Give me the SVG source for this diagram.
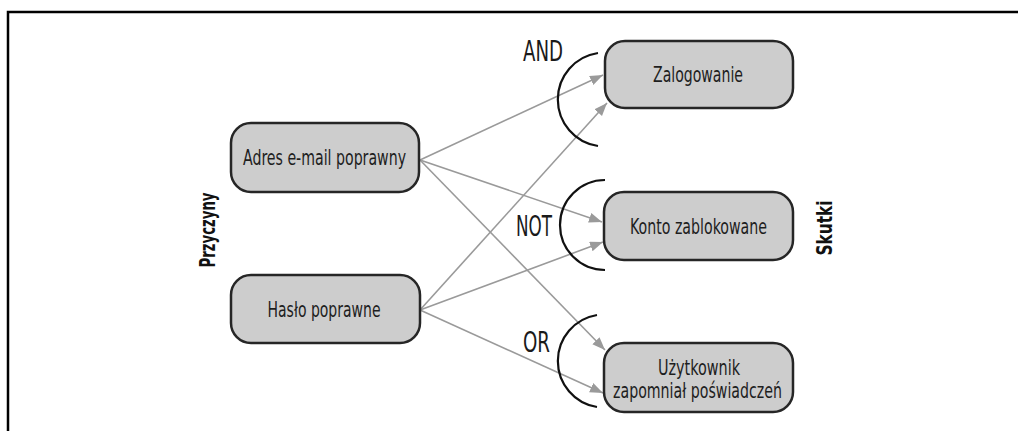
<svg xmlns="http://www.w3.org/2000/svg" width="1018" height="431" viewBox="0 0 1018 431">
<style>
.node{fill:#cdcdcd;stroke:#262626;stroke-width:2.5}
.t{font-family:"DejaVu Sans Condensed","DejaVu Sans",sans-serif;font-stretch:condensed;font-size:21px;fill:#1e1e1e;text-anchor:middle}
.lbl{font-family:"DejaVu Sans Condensed","DejaVu Sans",sans-serif;font-stretch:condensed;font-size:29px;fill:#1a1a1a;text-anchor:middle}
.side{font-family:"DejaVu Sans Condensed","DejaVu Sans",sans-serif;font-stretch:condensed;font-weight:bold;font-size:21px;fill:#111;text-anchor:middle}
.conn{stroke:#9a9a9a;stroke-width:1.6;fill:none;marker-end:url(#ah)}
.arc{stroke:#111;stroke-width:2.2;fill:none}
</style>
<defs>
<marker id="ah" markerUnits="userSpaceOnUse" markerWidth="14" markerHeight="12" refX="13" refY="5" orient="auto">
<path d="M0,0 L13,5 L0,10 Z" fill="#9a9a9a"/>
</marker>
</defs>
<rect width="1018" height="431" fill="#fff"/>
<path d="M8,431 V12 H1018" fill="none" stroke="#000" stroke-width="2.5"/>

<g id="connectors">
<line class="conn" x1="420" y1="160" x2="603" y2="75"/>
<line class="conn" x1="420" y1="160" x2="602" y2="222"/>
<line class="conn" x1="420" y1="160" x2="605" y2="350"/>
<line class="conn" x1="420" y1="310" x2="607" y2="103"/>
<line class="conn" x1="420" y1="310" x2="603" y2="242"/>
<line class="conn" x1="420" y1="310" x2="603" y2="393"/>
</g>

<g id="gate-and">
<path class="arc" d="M598,53 A47,47 0 0,0 598,146"/>
<text class="lbl" x="543" y="61" textLength="40" lengthAdjust="spacingAndGlyphs">AND</text>
</g>
<g id="gate-not">
<path class="arc" d="M605,180 A45,45 0 0,0 605,270"/>
<text class="lbl" x="534" y="236" textLength="36" lengthAdjust="spacingAndGlyphs">NOT</text>
</g>
<g id="gate-or">
<path class="arc" d="M597,315 A46.6,46.6 0 0,0 597,407"/>
<text class="lbl" x="536.5" y="352" textLength="27" lengthAdjust="spacingAndGlyphs">OR</text>
</g>

<g id="node-adres">
<rect class="node" x="231" y="123" width="188" height="69" rx="20"/>
<text class="t" x="324.5" y="165" textLength="163" lengthAdjust="spacingAndGlyphs">Adres e-mail poprawny</text>
</g>
<g id="node-haslo">
<rect class="node" x="231" y="275" width="189" height="68" rx="20"/>
<text class="t" x="324" y="317" textLength="113" lengthAdjust="spacingAndGlyphs">Hasło poprawne</text>
</g>
<g id="node-zalogowanie">
<rect class="node" x="605" y="41" width="188" height="67" rx="20"/>
<text class="t" x="698" y="82" textLength="90" lengthAdjust="spacingAndGlyphs">Zalogowanie</text>
</g>
<g id="node-konto">
<rect class="node" x="604" y="192" width="189" height="68" rx="20"/>
<text class="t" x="698.5" y="234" textLength="137" lengthAdjust="spacingAndGlyphs">Konto zablokowane</text>
</g>
<g id="node-uzytkownik">
<rect class="node" x="604" y="343" width="189" height="69" rx="20"/>
<text class="t" x="699" y="375" textLength="82" lengthAdjust="spacingAndGlyphs">Użytkownik</text>
<text class="t" x="697.5" y="398" textLength="169" lengthAdjust="spacingAndGlyphs">zapomniał poświadczeń</text>
</g>

<g id="label-przyczyny">
<text class="side" transform="translate(215,230) rotate(-90)" textLength="75" lengthAdjust="spacingAndGlyphs">Przyczyny</text>
</g>
<g id="label-skutki">
<text class="side" transform="translate(832,228) rotate(-90)" textLength="55" lengthAdjust="spacingAndGlyphs">Skutki</text>
</g>
</svg>
